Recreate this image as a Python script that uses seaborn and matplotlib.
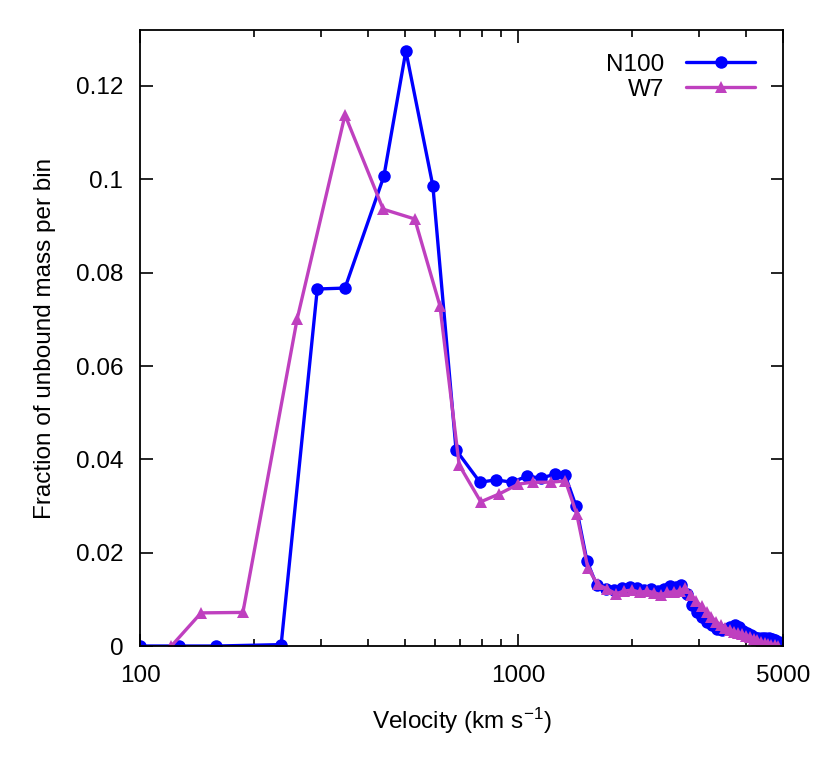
import matplotlib
matplotlib.use("Agg")
import matplotlib.pyplot as plt
import matplotlib.ticker as mticker
import numpy as np
import pandas as pd
import seaborn as sns

# velocity bins (km/s) and fraction of unbound mass
n100_vel = [100, 127, 159, 236, 294, 348, 441, 504, 594, 684, 791, 872, 962,
            1053, 1146, 1249, 1328, 1419, 1517, 1610, 1700, 1790, 1880, 1970,
            2060, 2150, 2240, 2330, 2420, 2510, 2600, 2690, 2780, 2870, 2965,
            3060, 3155, 3250, 3345, 3440, 3535, 3630, 3725, 3820, 3915, 4010,
            4105, 4200, 4295, 4390, 4485, 4580, 4675, 4770, 4865]
n100_frac = [0.0, 0.0, 0.0, 0.0003, 0.0765, 0.0767, 0.1007, 0.1275, 0.0986,
             0.0420, 0.0351, 0.0356, 0.0351, 0.0364, 0.0360, 0.0368, 0.0366,
             0.0300, 0.0182, 0.0130, 0.0122, 0.0120, 0.0125, 0.0127, 0.0124,
             0.0120, 0.0122, 0.0118, 0.0123, 0.0128, 0.0126, 0.0130, 0.0112,
             0.0088, 0.0073, 0.0062, 0.0052, 0.0045, 0.0036, 0.0034, 0.0037,
             0.0040, 0.0045, 0.0040, 0.0033, 0.0028, 0.0024, 0.0020, 0.0018,
             0.0017, 0.0017, 0.0017, 0.0016, 0.0012, 0.0008]

w7_vel = [121, 145, 187, 260, 348, 439, 532, 620, 697, 795, 890, 1000, 1090,
          1220, 1330, 1425, 1525, 1620, 1715, 1810, 1905, 2000, 2095, 2190,
          2285, 2380, 2475, 2570, 2665, 2760, 2855, 2950, 3045, 3140, 3235,
          3330, 3425, 3520, 3615, 3710, 3805, 3900, 3995, 4090, 4185, 4280,
          4375, 4470, 4565, 4660, 4755, 4850]
w7_frac = [0.0, 0.0071, 0.0072, 0.0700, 0.1138, 0.0936, 0.0915, 0.0729,
           0.0388, 0.0309, 0.0326, 0.0347, 0.0351, 0.0351, 0.0354, 0.0283,
           0.0167, 0.0132, 0.0122, 0.0112, 0.0118, 0.0120, 0.0115, 0.0118,
           0.0114, 0.0110, 0.0115, 0.0116, 0.0118, 0.0124, 0.0110, 0.0096,
           0.0085, 0.0073, 0.0062, 0.0052, 0.0044, 0.0039, 0.0035, 0.0031,
           0.0028, 0.0025, 0.0022, 0.0019, 0.0016, 0.0012, 0.0008, 0.0006,
           0.0004, 0.0003, 0.0002, 0.0001]

x_ticks = [100, 1000, 5000]
x_minor = [200, 300, 400, 500, 600, 700, 800, 900, 2000, 3000, 4000]
y_ticks = [0, 0.02, 0.04, 0.06, 0.08, 0.1, 0.12]

df = pd.concat([
    pd.DataFrame({"vel": n100_vel, "frac": n100_frac, "model": "N100"}),
    pd.DataFrame({"vel": w7_vel, "frac": w7_frac, "model": "W7"}),
])

sns.set_style("white")
plt.rcParams["font.family"] = ["Liberation Sans", "DejaVu Sans"]
plt.rcParams["mathtext.fontset"] = "custom"
plt.rcParams["mathtext.rm"] = "Liberation Sans"
plt.rcParams["mathtext.default"] = "regular"
plt.rcParams["text.color"] = "black"
plt.rcParams["axes.labelcolor"] = "black"

fig = plt.figure(figsize=(8.3, 7.71), dpi=100)
ax = fig.add_axes([0.1687, 0.1621, 0.7747, 0.799])

sns.lineplot(data=df, x="vel", y="frac", hue="model", style="model",
             palette={"N100": "#0000ff", "W7": "#bf40bf"},
             markers={"N100": "o", "W7": "^"}, dashes=False,
             linewidth=2.4, markersize=9, markeredgewidth=0,
             sort=True, estimator=None, ax=ax)

ax.set_xscale("log")
ax.set_xlim(100, 5000)
ax.set_ylim(0, 0.132)
ax.xaxis.set_major_locator(mticker.FixedLocator(x_ticks))
ax.xaxis.set_major_formatter(mticker.FixedFormatter([str(t) for t in x_ticks]))
ax.xaxis.set_minor_locator(mticker.FixedLocator(x_minor))
ax.xaxis.set_minor_formatter(mticker.NullFormatter())
ax.set_yticks(y_ticks)
ax.yaxis.set_major_formatter(mticker.FuncFormatter(lambda v, p: "%g" % v))

ax.tick_params(which="both", direction="in", top=True, right=True,
               bottom=True, left=True, labelsize=17.5, width=1.2,
               colors="black")
ax.tick_params(which="major", length=9)
ax.tick_params(which="minor", length=5)
ax.tick_params(axis="x", which="major", pad=14)
ax.tick_params(axis="y", which="major", pad=12)
for s in ax.spines.values():
    s.set_linewidth(1.3)
    s.set_color("black")

ax.set_xlabel("Velocity (km s$^{-1}$)", fontsize=17.5, labelpad=13)
ax.set_ylabel("Fraction of unbound mass per bin", fontsize=17.5, labelpad=14)

handles, labels = ax.get_legend_handles_labels()
ax.legend(handles, labels, loc="upper right", bbox_to_anchor=(0.972, 0.977),
          frameon=False, fontsize=17.5, markerfirst=False, handlelength=2.85,
          borderaxespad=0, labelspacing=0.12, handletextpad=0.9)

fig.savefig("out.png", dpi=100)
